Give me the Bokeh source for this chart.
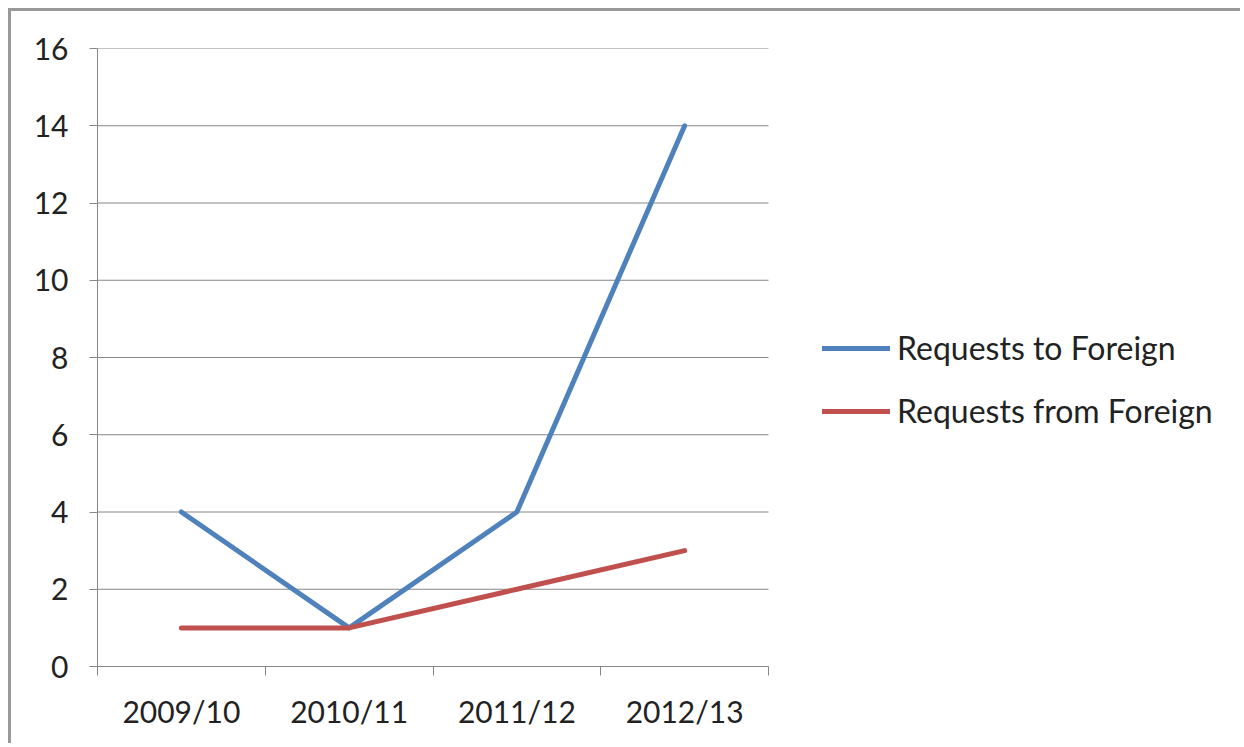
from bokeh.plotting import figure
from bokeh.models import FixedTicker, Legend, LegendItem, Range1d
from bokeh.embed import file_html
from bokeh.resources import INLINE

categories = ["2009/10", "2010/11", "2011/12", "2012/13"]
requests_to = [4, 1, 4, 14]
requests_from = [1, 1, 2, 3]
y_ticks = [0, 2, 4, 6, 8, 10, 12, 14, 16]

n = len(categories)
xs = [i + 0.5 for i in range(n)]

FONT = "Lato"
BORDER = 3
W, H = 1232, 735
LEFT, TOP, BOTTOM = 86, 37, 80
frame_w = W - LEFT
plot_px = 671  # pixel width of the category area
x_end = n * frame_w / plot_px

p = figure(width=W, height=H, output_backend="svg", toolbar_location=None,
           x_range=Range1d(0, x_end), y_range=Range1d(0, 16))
p.styles = {"border-top": f"{BORDER}px solid #999999", "border-left": f"{BORDER}px solid #999999",
            "margin-left": "8px", "margin-top": "8px"}
p.min_border_left = LEFT
p.min_border_right = 0
p.min_border_top = TOP
p.min_border_bottom = BOTTOM
p.outline_line_color = None
p.background_fill_color = "white"
p.border_fill_color = "white"

# horizontal gridlines limited to the category area
p.segment(x0=[0] * len(y_ticks), x1=[n] * len(y_ticks), y0=y_ticks, y1=y_ticks,
          line_color="#868686", line_width=1)

r1 = p.line(xs, requests_to, line_color="#4F81BD", line_width=5, line_join="round", line_cap="round")
r2 = p.line(xs, requests_from, line_color="#C0504D", line_width=5, line_join="round", line_cap="round")

# y axis
p.yaxis.ticker = FixedTicker(ticks=y_ticks)
p.yaxis.axis_line_color = "#868686"
p.yaxis.major_tick_line_color = "#868686"
p.yaxis.major_tick_out = 8
p.yaxis.major_tick_in = 0
p.yaxis.minor_tick_line_color = None
p.yaxis.major_label_standoff = 21
p.yaxis.major_label_text_font = FONT
p.yaxis.major_label_text_font_size = "30px"
p.yaxis.major_label_text_color = "#222222"

# x axis: labels at category centers, tick marks at boundaries
p.xaxis.ticker = FixedTicker(ticks=xs, minor_ticks=list(range(n + 1)))
p.xaxis.major_label_overrides = {x: c for x, c in zip(xs, categories)}
p.xaxis.bounds = (0, n)
p.xaxis.axis_line_color = "#868686"
p.xaxis.major_tick_out = 0
p.xaxis.major_tick_in = 0
p.xaxis.minor_tick_line_color = "#868686"
p.xaxis.minor_tick_out = 9
p.xaxis.minor_tick_in = 0
p.xaxis.major_label_standoff = 17
p.xaxis.major_label_text_font = FONT
p.xaxis.major_label_text_font_size = "30px"
p.xaxis.major_label_text_color = "#222222"

p.xgrid.grid_line_color = None
p.ygrid.grid_line_color = None

legend = Legend(items=[LegendItem(label="Requests to Foreign", renderers=[r1]),
                       LegendItem(label="Requests from Foreign", renderers=[r2])],
                location=(725, 236))
legend.padding = 0
legend.margin = 0
legend.border_line_color = None
legend.background_fill_alpha = 0
legend.glyph_width = 68
legend.glyph_height = 30
legend.label_height = 30
legend.spacing = 24
legend.label_standoff = 7
legend.label_text_font = FONT
legend.label_text_font_size = "32px"
legend.label_text_color = "#222222"
p.add_layout(legend, "center")

open("out.html", "w").write(file_html(p, INLINE))
